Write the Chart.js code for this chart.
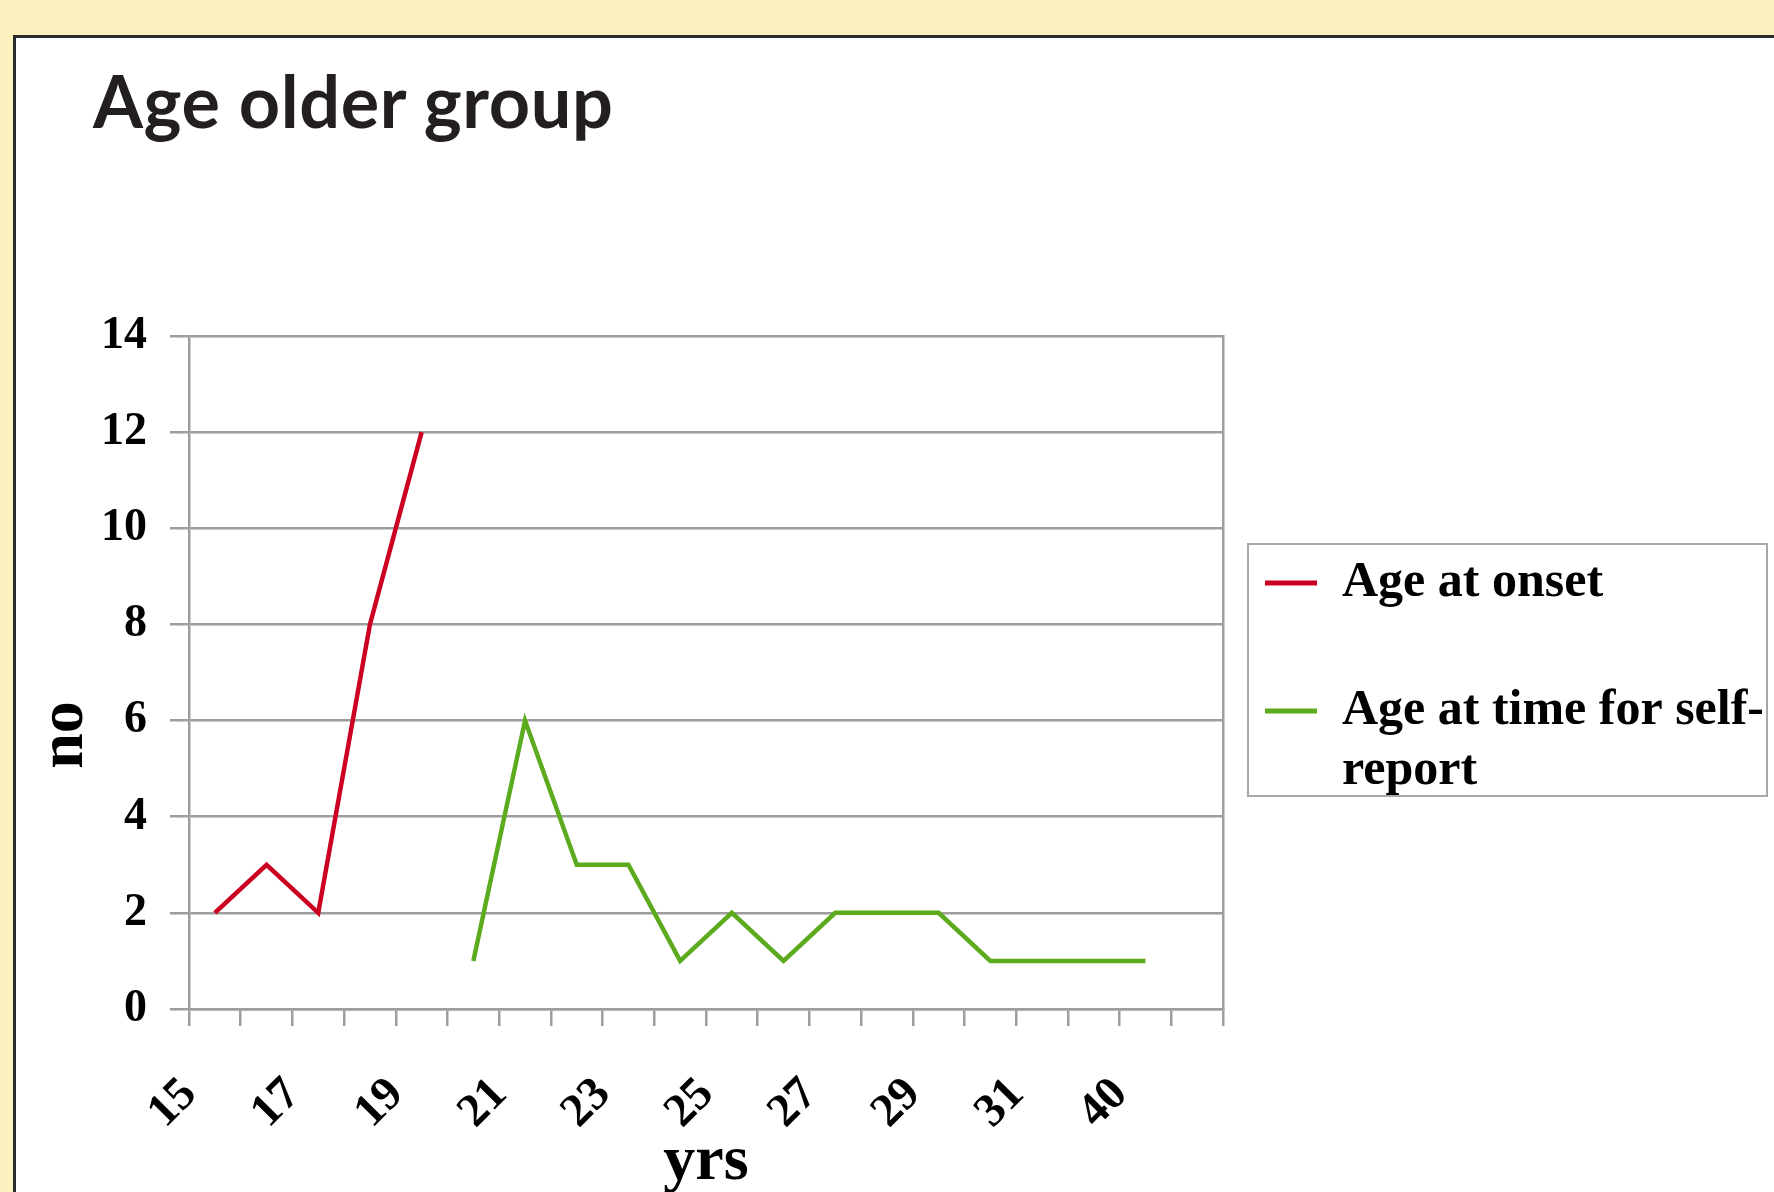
<!DOCTYPE html>
<html>
<head>
<meta charset="utf-8">
<script src="https://cdn.jsdelivr.net/npm/chart.js@4.4.1/dist/chart.umd.min.js"></script>
<style>
  html, body { margin: 0; padding: 0; width: 1774px; height: 1192px; overflow: hidden; background: #fcf2c0; }
  #panel { position: absolute; left: 13px; top: 35px; width: 1800px; height: 1200px; background: #fff; border: 3px solid #2b2b2b; box-sizing: border-box; }
  #heading { position: absolute; left: 93px; top: 57px; margin: 0; font: 700 72px Lato, sans-serif; letter-spacing: 0.6px; color: #231f20; }
  #wrap { position: absolute; left: 0; top: 0; width: 1774px; height: 1230px; }
</style>
</head>
<body>
<div id="panel"></div>
<h1 id="heading">Age older group</h1>
<div id="wrap"><canvas id="chart"></canvas></div>
<script>
// x categories (only every other one is labelled in the original)
const categories = ["15", "16", "17", "18", "19", "20", "21", "22", "23", "24",
  "25", "26", "27", "28", "29", "30", "31", "35", "40", "45"];
const onsetValues = [2, 3, 2, 8, 12, null, null, null, null, null,
  null, null, null, null, null, null, null, null, null, null];
const selfReportValues = [null, null, null, null, null, 1, 6, 3, 3, 1,
  2, 1, 2, 2, 2, 1, 1, 1, 1, null];
const seriesNames = ["Age at onset", "Age at time for self-report"];
const legendLines = [["Age at onset", ""], ["Age at time for self-", "report"]];
const yMin = 0;
const yMax = 14;
const yStep = 2;
const xTitle = "yrs";
const yTitle = "no";

const grey = "#9d9d9d";
const serif = "'Liberation Serif', 'Times New Roman', serif";

// grey frame round the legend, and the y axis title (sits low, as in the original)
const extras = {
  id: "extras",
  afterDraw(chart) {
    const ctx = chart.ctx;
    const ca = chart.chartArea;
    ctx.save();
    ctx.translate(chart.scales.y.left + 40, ca.bottom - 274);
    ctx.rotate(-Math.PI / 2);
    ctx.font = `bold 64px ${serif}`;
    ctx.fillStyle = "#000";
    ctx.textAlign = "center";
    ctx.textBaseline = "middle";
    ctx.fillText(yTitle, 0, 0);
    ctx.restore();

    const hb = chart.legend.legendHitBoxes;
    if (!hb || hb.length < 2) return;
    const x = hb[0].left - 17;
    const y = hb[0].top - 14;
    const w = chart.width - 7 - x;
    const h = hb[1].top + 110 - y;
    ctx.save();
    ctx.strokeStyle = "#a8a8a8";
    ctx.lineWidth = 2;
    ctx.strokeRect(x, y, w, h);
    ctx.restore();
  }
};

const ctx = document.getElementById("chart").getContext("2d");

new Chart(ctx, {
  type: "line",
  data: {
    labels: categories,
    datasets: [
      {
        label: seriesNames[0],
        data: onsetValues,
        borderColor: "#cc0020",
        backgroundColor: "#cc0020",
        borderWidth: 4.5,
        pointRadius: 0,
        tension: 0,
      },
      {
        label: seriesNames[1],
        data: selfReportValues,
        borderColor: "#5cab1e",
        backgroundColor: "#5cab1e",
        borderWidth: 4.5,
        pointRadius: 0,
        tension: 0,
      },
    ],
  },
  options: {
    responsive: true,
    maintainAspectRatio: false,
    animation: false,
    layout: { padding: { left: 25, top: 336, right: 0, bottom: 25 } },
    plugins: {
      tooltip: { enabled: false },
      legend: {
        position: "right",
        align: "center",
        fullSize: false,
        maxWidth: 600,
        title: { display: true, text: "", font: { size: 10 }, padding: { top: 3, bottom: 4 } },
        labels: {
          boxWidth: 52,
          boxHeight: 5,
          padding: 8,
          color: "#000",
          font: { family: serif, weight: "bold", size: 50 },
          generateLabels: (chart) =>
            chart.data.datasets.map((ds, i) => ({
              text: legendLines[i],
              fillStyle: ds.borderColor,
              strokeStyle: ds.borderColor,
              lineWidth: 0,
              fontColor: "#000",
              hidden: false,
              datasetIndex: i,
            })),
        },
      },
    },
    scales: {
      x: {
        offset: true,
        grid: { offset: true, drawOnChartArea: false, color: grey, lineWidth: 2.5, tickLength: 17 },
        border: { color: grey, width: 2.5 },
        ticks: {
          autoSkip: false,
          minRotation: 45,
          maxRotation: 45,
          padding: 41,
          labelOffset: -25,
          color: "#000",
          font: { family: serif, weight: "bold", size: 47 },
          callback: (v, i) => (i % 2 === 0 ? categories[i] : ""),
        },
        title: {
          display: true,
          text: xTitle,
          color: "#000",
          font: { family: serif, weight: "bold", size: 64 },
          padding: { top: 4, bottom: 4 },
        },
        afterFit: (scale) => { scale.height = 196; },
      },
      y: {
        min: yMin,
        max: yMax,
        ticks: { stepSize: yStep, padding: 23, color: "#000", font: { family: serif, weight: "bold", size: 46 } },
        grid: { color: grey, lineWidth: 2.5, tickLength: 19 },
        border: { color: grey, width: 2.5 },
        afterFit: (scale) => { scale.width = 164; },
      },
      y2: {
        position: "right",
        grid: { drawOnChartArea: false, drawTicks: false },
        ticks: { display: false },
        border: { color: grey, width: 2.5 },
        afterFit: (scale) => { scale.width = 34; },
      },
    },
  },
  plugins: [extras],
});
</script>
</body>
</html>
